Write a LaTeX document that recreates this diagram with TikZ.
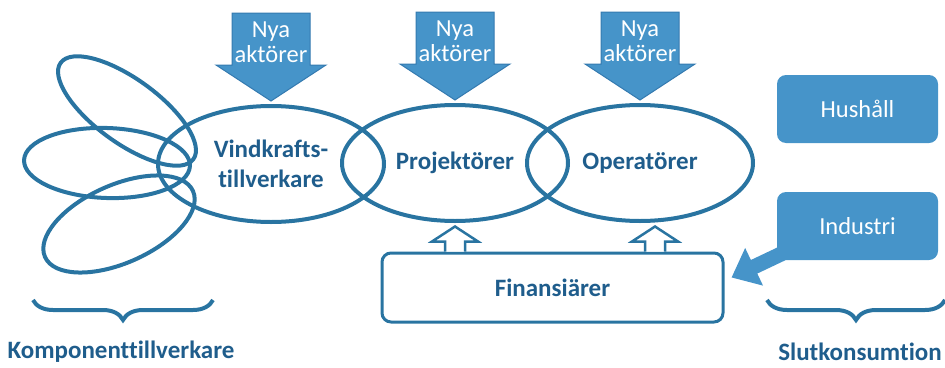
\documentclass[tikz,border=0pt]{standalone}
\usepackage{fontspec}
\setmainfont{Carlito}[Ligatures=NoCommon]
\usetikzlibrary{calc,positioning,shapes.geometric,decorations.pathreplacing,arrows.meta}
\definecolor{ringblue}{RGB}{41,116,161}
\definecolor{textblue}{RGB}{31,93,140}
\definecolor{boxblue}{RGB}{70,148,201}
\definecolor{edgeblue}{RGB}{52,122,176}

\begin{document}
\begin{tikzpicture}[x=1pt,y=-1pt,font=\fontsize{24.5}{26}\selectfont]

\tikzset{actor/.style={ellipse,draw=ringblue,line width=4pt,minimum width=226pt,minimum height=116pt,inner sep=0pt,font=\fontsize{25}{30}\selectfont\bfseries,text=textblue,align=center},
petal/.style={ellipse,draw=ringblue,line width=4pt,inner sep=0pt},
consumer/.style={fill=boxblue,rounded corners=9pt,minimum width=161pt,minimum height=68pt,text=white},
newactors/.style={fill=boxblue,draw=edgeblue,line width=1pt},
hollowup/.style={fill=white,draw=ringblue,line width=2.5pt},
groupbrace/.style={draw=ringblue,line width=4pt,decorate,decoration={brace,amplitude=20pt}},
grouplabel/.style={font=\fontsize{25}{30}\selectfont\bfseries,text=textblue}}

\useasboundingbox (0,0) rectangle (945,367);

% Component makers
\node[petal,minimum width=164pt,minimum height=64pt,rotate=-36] (komp1) at (127,111) {};
\node[petal,minimum width=166pt,minimum height=70pt,rotate=-2] (komp2) at (107,163) {};
\node[petal,minimum width=162pt,minimum height=78pt,rotate=24] (komp3) at (119,224) {};

% Actor chain
\node[actor] (vind) at (271,164) {Vindkrafts-\\tillverkare};
\node[actor] (proj) at (455,163) {Projektörer};
\node[actor] (oper) at (640,163) {Operatörer};

% New actors entering
\foreach \n in {vind,proj,oper} {
  \coordinate (tip\n) at ($(\n.north)+(0,-3)$);
  \filldraw[newactors] (tip\n) -- ++(-55,-36) -- ++(16,0) -- ++(0,-52) -- ++(78,0) -- ++(0,52) -- ++(16,0) -- cycle;
  \node[text=white,align=center,font=\fontsize{24.5}{25}\selectfont] (nya\n) at ($(tip\n)+(0,-59)$) {Nya\\aktörer};
}

% Financiers
\node[draw=ringblue,line width=3pt,rounded corners=9pt,minimum width=341pt,minimum height=69pt,font=\fontsize{25}{30}\selectfont\bfseries,text=textblue] (fin) at (552.5,287.5) {Finansiärer};
\foreach \x in {455,655} \draw[hollowup] ($(fin.north -| \x,0)+(-10,0)$) -- ++(0,-10) -- ++(-13,0) -- ++(23,-15) -- ++(23,15) -- ++(-13,0) -- ++(0,10);

% Final consumers
\draw[boxblue,line width=15pt,-{Triangle[length=25pt,width=40pt]}] (800,245) coordinate (ind0) -- ($(fin.east)+(7,-10)$);
\node[consumer] (hush) at (857.5,109) {Hushåll};
\node[consumer] (industri) at (857.5,226) {Industri};

% Groups
\draw[groupbrace] (213,300) -- (33,300);
\node[grouplabel] (kompLabel) at (121,352) {Komponenttillverkare};
\draw[groupbrace] (945,300) -- (767,300);
\node[grouplabel] (slutLabel) at (860,352) {Slutkonsumtion};

\end{tikzpicture}
\end{document}
